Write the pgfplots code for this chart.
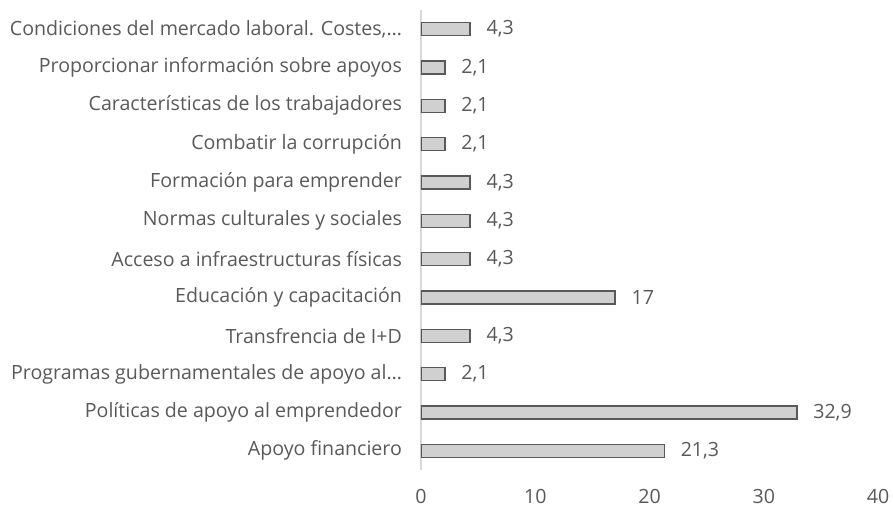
\documentclass[border=0pt]{standalone}
\usepackage{fontspec}
\setmainfont{Open Sans}
\usepackage{pgfplots}
\pgfplotsset{compat=1.18}
\definecolor{txt}{HTML}{595959}
\definecolor{barfill}{HTML}{D0D0D0}
\definecolor{baredge}{HTML}{595959}
\definecolor{axisgray}{HTML}{D9D9D9}
\begin{document}
\begin{tikzpicture}
\path[use as bounding box] (-210.5pt,-19pt) rectangle (236pt,235pt);
\begin{axis}[
  xbar, scale only axis,
  width=228.5pt, height=230pt,
  xmin=0, xmax=40, ymin=-0.5, ymax=11.5,
  enlargelimits=false,
  xtick={0,10,20,30,40},
  ytick={0,...,11},
  yticklabels={Apoyo financiero,
    Políticas de apoyo al emprendedor,
    Programas gubernamentales de apoyo al…,
    Transfrencia de I+D,
    Educación y capacitación,
    Acceso a infraestructuras físicas,
    Normas culturales y sociales,
    Formación para emprender,
    Combatir la corrupción,
    Características de los trabajadores,
    Proporcionar información sobre apoyos,
    {Condiciones del mercado laboral. Costes,…}},
  axis lines*=left,
  x axis line style={draw=none},
  y axis line style={draw=axisgray, line width=0.6pt},
  major tick length=0pt,
  /pgf/number format/assume math mode=true,
  tick label style={font=\fontsize{9.8}{11.5}\selectfont, text=txt},
  xticklabel style={yshift=-6pt},
  yticklabel style={xshift=-6pt},
  bar width=6.5pt,
  point meta=explicit symbolic,
  nodes near coords,
  nodes near coords style={font=\fontsize{9.8}{11.5}\selectfont, text=txt, anchor=west, xshift=4.5pt},
]
\addplot[fill=barfill, draw=baredge, line width=0.75pt] coordinates {
  (21.3,0) [21,3]
  (32.9,1) [32,9]
  (2.1,2) [2,1]
  (4.3,3) [4,3]
  (17,4) [17]
  (4.3,5) [4,3]
  (4.3,6) [4,3]
  (4.3,7) [4,3]
  (2.1,8) [2,1]
  (2.1,9) [2,1]
  (2.1,10) [2,1]
  (4.3,11) [4,3]
};
\end{axis}
\end{tikzpicture}
\end{document}
